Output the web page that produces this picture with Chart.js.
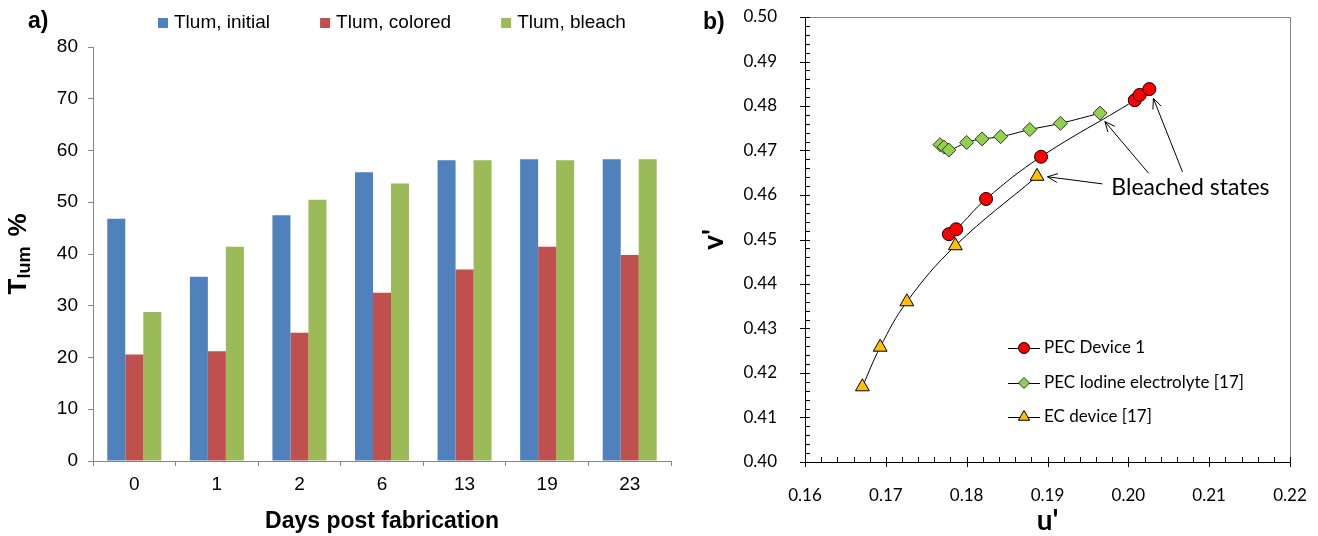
<!DOCTYPE html>
<html lang="en">
<head>
  <meta charset="UTF-8">
  <title>Luminous transmittance and colour coordinates</title>
  <script src="https://cdn.jsdelivr.net/npm/chart.js"></script>
  <style>
    body {
      margin: 0;
      background: #ffffff;
    }
    .wrap {
      position: relative;
      width: 1318px;
      height: 536px;
    }
    #barChart {
      position: absolute;
      left: 0;
      top: 0;
    }
    #uvChart {
      position: absolute;
      left: 700px;
      top: 0;
    }
  </style>
</head>
<body>
  <div class="wrap">
    <canvas id="barChart" width="700" height="536"></canvas>
    <canvas id="uvChart" width="618" height="536"></canvas>
  </div>

  <script>
    // a) Tlum over days after fabrication
    const days = ['0', '1', '2', '6', '13', '19', '23'];
    const tlumInitial = [46.8, 35.6, 47.5, 55.8, 58.1, 58.3, 58.3];
    const tlumColored = [20.6, 21.2, 24.8, 32.5, 37.0, 41.4, 39.8];
    const tlumBleach  = [28.8, 41.4, 50.5, 53.6, 58.1, 58.1, 58.3];
    const tlumTicks = [0, 10, 20, 30, 40, 50, 60, 70, 80];

    // b) u'v' chromaticity paths
    const pecU = [0.1778, 0.1787, 0.1824, 0.1892, 0.2008, 0.2014, 0.2026];
    const pecV = [0.4512, 0.4523, 0.4591, 0.4686, 0.4813, 0.4825, 0.4838];
    const iodU = [0.1767, 0.1772, 0.1778, 0.1800, 0.1819, 0.1842, 0.1878, 0.1916, 0.1965];
    const iodV = [0.4713, 0.4708, 0.4701, 0.4718, 0.4726, 0.4731, 0.4747, 0.4761, 0.4784];
    const ecU = [0.1671, 0.1693, 0.1726, 0.1786, 0.1887];
    const ecV = [0.4169, 0.4258, 0.4360, 0.4486, 0.4642];
    const uTicks = [0.16, 0.17, 0.18, 0.19, 0.20, 0.21, 0.22];
    const vTicks = [0.40, 0.41, 0.42, 0.43, 0.44, 0.45, 0.46, 0.47, 0.48, 0.49, 0.50];

    // "Bleached states" label and its arrows (tail u, tail v, head u, head v)
    const bleachLabel = { u: 0.1979, v: 0.4616, text: 'Bleached states' };
    const bleachArrows = [
      [0.2025, 0.4649, 0.1971, 0.4765],
      [0.2067, 0.4652, 0.2031, 0.4817],
      [0.1968, 0.4625, 0.1900, 0.4641]
    ];

    const ARIAL = '"Liberation Sans", Arial, sans-serif';
    const CALIBRI = 'Lato, "Open Sans", sans-serif';

    const toXY = (us, vs) => us.map((u, i) => ({ x: u, y: vs[i] }));

    // legend, panel letter and the subscripted y title for the bar chart
    const barDecor = {
      id: 'barDecor',
      afterDraw(chart) {
        const ctx = chart.ctx;
        ctx.save();
        ctx.font = '19px ' + ARIAL;
        ctx.textBaseline = 'middle';
        let x = 158;
        chart.data.datasets.forEach(ds => {
          ctx.fillStyle = ds.backgroundColor;
          ctx.fillRect(x, 18, 10, 10);
          ctx.fillStyle = '#000';
          ctx.fillText(ds.label, x + 16, 23);
          x += 16 + ctx.measureText(ds.label).width + 50;
        });

        ctx.font = 'bold 23px ' + ARIAL;
        ctx.fillText('a)', 28, 22);

        // T_lum %
        ctx.translate(26, 254);
        ctx.rotate(-Math.PI / 2);
        ctx.textBaseline = 'alphabetic';
        const big = 'bold 26px ' + ARIAL;
        const small = 'bold 18px ' + ARIAL;
        const gap = 10;
        ctx.font = big;
        const wT = ctx.measureText('T').width;
        const wP = ctx.measureText('%').width;
        ctx.font = small;
        const wS = ctx.measureText('lum').width;
        let tx = -(wT + wS + gap + wP) / 2;
        ctx.font = big;
        ctx.fillText('T', tx, 0);
        tx += wT;
        ctx.font = small;
        ctx.fillText('lum', tx, 4);
        tx += wS + gap;
        ctx.font = big;
        ctx.fillText('%', tx, 0);
        ctx.restore();
      }
    };

    new Chart(document.getElementById('barChart'), {
      type: 'bar',
      data: {
        labels: days,
        datasets: [
          { label: 'Tlum, initial', data: tlumInitial, backgroundColor: '#4F81BD' },
          { label: 'Tlum, colored', data: tlumColored, backgroundColor: '#C0504D' },
          { label: 'Tlum, bleach', data: tlumBleach, backgroundColor: '#9BBB59' }
        ]
      },
      options: {
        responsive: false,
        animation: false,
        layout: { padding: { top: 47, right: 29, left: 0, bottom: 0 } },
        datasets: { bar: { categoryPercentage: 0.654, barPercentage: 1.0 } },
        plugins: {
          legend: { display: false },
          tooltip: { enabled: false }
        },
        scales: {
          x: {
            grid: { drawOnChartArea: false, tickLength: 5, color: '#868686', offset: true },
            border: { color: '#868686' },
            ticks: { color: '#000', font: { family: ARIAL, size: 19 }, padding: 7 },
            title: {
              display: true,
              text: 'Days post fabrication',
              color: '#000',
              font: { family: ARIAL, size: 23, weight: 'bold' },
              padding: { top: 0, bottom: 1 }
            },
            afterFit(scale) {
              scale.height = 75;
              scale.paddingLeft = 0;
              scale.paddingRight = 0;
            }
          },
          y: {
            min: 0,
            max: 80,
            afterBuildTicks(scale) { scale.ticks = tlumTicks.map(v => ({ value: v })); },
            grid: { drawOnChartArea: false, tickLength: 5, color: '#868686' },
            border: { color: '#868686' },
            ticks: { color: '#000', font: { family: ARIAL, size: 19 }, padding: 10 },
            afterFit(scale) {
              scale.width = 93;
              scale.paddingTop = 0;
              scale.paddingBottom = 0;
            }
          }
        }
      },
      plugins: [barDecor]
    });

    // frame, minor/major ticks, legend and annotation for the u'v' plot
    const uvDecor = {
      id: 'uvDecor',
      afterDraw(chart) {
        const ctx = chart.ctx;
        const a = chart.chartArea;
        const xs = chart.scales.x;
        const ys = chart.scales.y;
        ctx.save();

        // top and right frame
        ctx.strokeStyle = '#868686';
        ctx.lineWidth = 1;
        ctx.beginPath();
        ctx.moveTo(a.left - 5, a.top + 0.5);
        ctx.lineTo(a.right + 0.5, a.top + 0.5);
        ctx.lineTo(a.right + 0.5, a.bottom);
        ctx.stroke();

        // ticks every 0.002, major ones cross the axis
        ctx.strokeStyle = '#000';
        ctx.beginPath();
        for (let i = 0; i <= 50; i++) {
          const py = Math.round(ys.getPixelForValue(0.40 + i * 0.002)) + 0.5;
          if (i % 5 === 0) { ctx.moveTo(a.left - 5, py); ctx.lineTo(a.left + 5, py); }
          else { ctx.moveTo(a.left, py); ctx.lineTo(a.left + 5, py); }
        }
        for (let i = 0; i <= 30; i++) {
          const px = Math.round(xs.getPixelForValue(0.16 + i * 0.002)) + 0.5;
          if (i % 5 === 0) { ctx.moveTo(px, a.bottom + 5); ctx.lineTo(px, a.bottom - 5); }
          else { ctx.moveTo(px, a.bottom); ctx.lineTo(px, a.bottom - 5); }
        }
        ctx.stroke();

        // legend: short line with marker
        ctx.font = '17px ' + CALIBRI;
        ctx.textBaseline = 'middle';
        const rows = [348, 383, 417];
        const order = [2, 1, 0];
        order.forEach((di, k) => {
          const ds = chart.data.datasets[di];
          const y = rows[k];
          ctx.strokeStyle = '#000';
          ctx.lineWidth = 1;
          ctx.beginPath();
          ctx.moveTo(308, y + 0.5);
          ctx.lineTo(340, y + 0.5);
          ctx.stroke();
          ctx.fillStyle = ds.pointBackgroundColor;
          ctx.strokeStyle = ds.pointBorderColor;
          Chart.helpers.drawPoint(ctx, {
            pointStyle: ds.pointStyle,
            radius: ds.legendRadius,
            rotation: 0,
            borderWidth: 1
          }, 324, y);
          ctx.fillStyle = '#000';
          ctx.fillText(ds.label, 344, y);
        });

        // Bleached states
        ctx.font = '23px ' + CALIBRI;
        ctx.fillStyle = '#000';
        ctx.textBaseline = 'middle';
        ctx.fillText(bleachLabel.text, xs.getPixelForValue(bleachLabel.u), ys.getPixelForValue(bleachLabel.v));
        ctx.strokeStyle = '#000';
        ctx.lineWidth = 1;
        bleachArrows.forEach(([u0, v0, u1, v1]) => {
          const x0 = xs.getPixelForValue(u0), y0 = ys.getPixelForValue(v0);
          const x1 = xs.getPixelForValue(u1), y1 = ys.getPixelForValue(v1);
          const ang = Math.atan2(y1 - y0, x1 - x0);
          const h = 11, spread = 0.42;
          ctx.beginPath();
          ctx.moveTo(x0, y0);
          ctx.lineTo(x1, y1);
          ctx.moveTo(x1 - h * Math.cos(ang - spread), y1 - h * Math.sin(ang - spread));
          ctx.lineTo(x1, y1);
          ctx.lineTo(x1 - h * Math.cos(ang + spread), y1 - h * Math.sin(ang + spread));
          ctx.stroke();
        });

        ctx.font = 'bold 23px ' + ARIAL;
        ctx.textBaseline = 'middle';
        ctx.fillText('b)', 3, 23);
        ctx.restore();
      }
    };

    new Chart(document.getElementById('uvChart'), {
      type: 'scatter',
      data: {
        datasets: [
          {
            label: 'EC device [17]',
            data: toXY(ecU, ecV),
            pointStyle: 'triangle',
            pointRadius: 8,
            legendRadius: 6.5,
            pointBackgroundColor: '#FFC000',
            pointBorderColor: '#000',
            pointBorderWidth: 1,
            borderColor: '#000',
            backgroundColor: '#FFC000'
          },
          {
            label: 'PEC Iodine electrolyte [17]',
            data: toXY(iodU, iodV),
            pointStyle: 'rectRot',
            pointRadius: 7,
            legendRadius: 5.5,
            pointBackgroundColor: '#92D050',
            pointBorderColor: '#2F3A24',
            pointBorderWidth: 1,
            borderColor: '#000',
            backgroundColor: '#92D050'
          },
          {
            label: 'PEC Device 1',
            data: toXY(pecU, pecV),
            pointStyle: 'circle',
            pointRadius: 6.5,
            legendRadius: 5.5,
            pointBackgroundColor: '#FF0000',
            pointBorderColor: '#000',
            pointBorderWidth: 1,
            borderColor: '#000',
            backgroundColor: '#FF0000'
          }
        ]
      },
      options: {
        responsive: false,
        animation: false,
        layout: { padding: { top: 17, right: 28, left: 0, bottom: 0 } },
        datasets: {
          scatter: {
            showLine: true,
            borderWidth: 1,
            tension: 0.4
          }
        },
        plugins: {
          legend: { display: false },
          tooltip: { enabled: false }
        },
        scales: {
          x: {
            min: 0.16,
            max: 0.22,
            afterBuildTicks(scale) { scale.ticks = uTicks.map(v => ({ value: v })); },
            grid: { display: false },
            border: { color: '#000' },
            ticks: {
              color: '#000',
              font: { family: CALIBRI, size: 17 },
              padding: 15,
              callback: v => v.toFixed(2)
            },
            title: {
              display: true,
              text: "u'",
              color: '#000',
              font: { family: CALIBRI, size: 28, weight: 'bold', lineHeight: 1.0 },
              padding: { top: 0, bottom: 1 }
            },
            afterFit(scale) {
              scale.height = 74;
              scale.paddingLeft = 0;
              scale.paddingRight = 0;
            }
          },
          y: {
            min: 0.40,
            max: 0.50,
            afterBuildTicks(scale) { scale.ticks = vTicks.map(v => ({ value: v })); },
            grid: { display: false },
            border: { color: '#000' },
            ticks: {
              color: '#000',
              font: { family: CALIBRI, size: 17 },
              padding: 20,
              callback: v => v.toFixed(2)
            },
            title: {
              display: true,
              text: "v'",
              color: '#000',
              font: { family: CALIBRI, size: 28, weight: 'bold', lineHeight: 1.0 },
              padding: 0
            },
            afterFit(scale) {
              scale.width = 105;
              scale.paddingTop = 0;
              scale.paddingBottom = 0;
            }
          }
        }
      },
      plugins: [uvDecor]
    });
  </script>
</body>
</html>
